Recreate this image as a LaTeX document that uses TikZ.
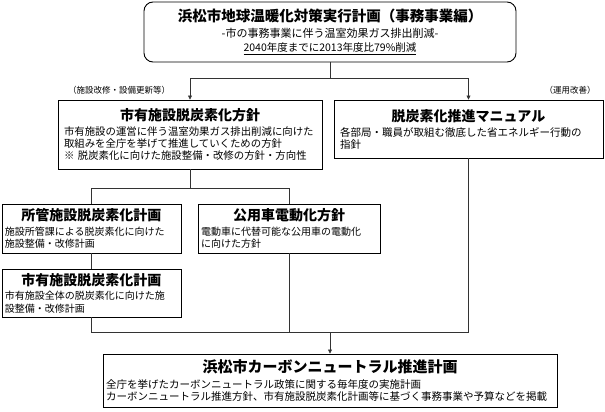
\documentclass[tikz,border=0pt]{standalone}
\usepackage{fontspec}
\setmainfont{Noto Sans CJK JP}
\usepackage{xcolor}
\usetikzlibrary{arrows.meta,positioning}
\setlength{\parindent}{0pt}
\newcommand{\boxtitle}[2][14pt]{\makebox[\hsize]{\fontsize{#1}{#1}\bfseries #2}}

\begin{document}
\begin{tikzpicture}[
  x=1pt, y=-1pt,
  box/.style={draw, line width=0.9pt, align=left, inner xsep=3pt, inner ysep=3pt,
    font=\fontsize{10}{12.5}\selectfont},
  arrow/.style={-{Triangle[length=4pt,width=4pt]}, line width=0.7pt, draw=black!80},
  link/.style={line width=0.7pt, draw=black!80},
  note/.style={font=\fontsize{8.5}{9}\selectfont, inner sep=0pt}
]
\useasboundingbox (0,0) rectangle (605,412);

\node[box, rounded corners=9pt, align=center, text width=366, minimum height=60] (plan) at (330,32)
  {{\fontsize{14.5}{16}\bfseries 浜松市地球温暖化対策実行計画（事務事業編）}\\[3pt]
   {\fontsize{11}{13}\selectfont -市の事務事業に伴う温室効果ガス排出削減-}\\[2pt]
   {\fontsize{10.5}{12}\selectfont\underline{2040年度までに2013年度比79\%削減}}};

\node[box, inner xsep=6pt, text width=252, minimum height=69, font=\fontsize{10.4}{12}\selectfont] (hoshin) at (190,134.5)
  {\boxtitle{市有施設脱炭素化方針}\\[3pt]
   市有施設の運営に伴う温室効果ガス排出削減に向けた\\
   取組みを全庁を挙げて推進していくための方針\\
   ※ 脱炭素化に向けた施設整備・改修の方針・方向性};
\node[box, inner xsep=6pt, text width=257, minimum height=58, font=\fontsize{10.5}{12}\selectfont] (manual) at (468.5,129)
  {\boxtitle{脱炭素化推進マニュアル}\\[3pt]
   各部局・職員が取組む徹底した省エネルギー行動の\\
   指針};

\node[box, text width=173, minimum height=49] (shokan) at (91.5,228.5)
  {\boxtitle{所管施設脱炭素化計画}\\[2pt]
   施設所管課による脱炭素化に向けた\\
   施設整備・改修計画};
\node[box, text width=176, minimum height=49] (koyosha) at (289,228.5)
  {\boxtitle{公用車電動化方針}\\[2pt]
   電動車に代替可能な公用車の電動化\\
   に向けた方針};
\node[box, text width=173, minimum height=48] (shiyu) at (91.5,293)
  {\boxtitle{市有施設脱炭素化計画}\\[2pt]
   市有施設全体の脱炭素化に向けた施\\
   設整備・改修計画};

\node[box, text width=448, minimum height=53, font=\fontsize{10.5}{12}\selectfont] (cn) at (330,380.5)
  {\boxtitle[15pt]{浜松市カーボンニュートラル推進計画}\\[4pt]
   全庁を挙げたカーボンニュートラル政策に関する毎年度の実施計画\\
   カーボンニュートラル推進方針、市有施設脱炭素化計画等に基づく事務事業や予算などを掲載};

\node[note] (hard) at (119,90) {（施設改修・設備更新等）};
\node[note] (soft) at (570,90) {（運用改善）};

\coordinate (plansplit) at (330,78);
\coordinate (hoshinsplit) at (190,188);
\coordinate (merge) at (330,332);

\draw[link] (plan.south) -- (plansplit);
\draw[arrow] (plansplit) -| (hoshin.north);
\draw[arrow] (plansplit) -| (manual.north);
\draw[link] (hoshin.south) -- (hoshinsplit);
\draw[link] (hoshinsplit) -| (shokan.north);
\draw[link] (hoshinsplit) -| (koyosha.north);
\draw[link] (shokan) -- (shiyu);
\draw[link] (shiyu.south) |- (merge);
\draw[link] (koyosha.south) |- (merge);
\draw[link] (manual.south) |- (merge);
\draw[arrow] (merge) -- (cn.north);
\end{tikzpicture}
\end{document}
